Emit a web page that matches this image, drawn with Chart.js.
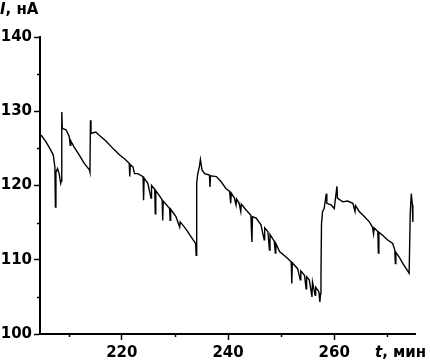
<!DOCTYPE html>
<html>
<head>
<meta charset="utf-8">
<script src="https://cdn.jsdelivr.net/npm/chart.js@4"></script>
<style>
  html, body { margin: 0; padding: 0; background: #fff; }
  #wrap { width: 430px; height: 363px; position: relative; }
</style>
</head>
<body>
<div id="wrap"><canvas id="chart"></canvas></div>
<script>
// time, min
const times = [
  204.8, 205.7, 206.6, 207.1, 207.4, 207.5, 207.6, 207.9, 208.2, 208.5,
  208.6, 208.7, 208.8, 209.5, 210.1, 210.3, 210.4, 211.0, 212.0, 212.9,
  213.9, 214.0, 214.1, 214.2, 215.1, 215.7, 217.0, 218.6, 219.6, 220.5,
  221.4, 221.5, 221.6, 222.1, 222.4, 223.0, 224.0, 224.1, 224.2, 224.9,
  225.5, 225.6, 226.2, 226.3, 226.4, 227.4, 227.6, 227.7, 227.8, 229.0,
  229.1, 229.2, 230.2, 230.9, 231.0, 231.8, 232.4, 233.4, 233.9, 234.0,
  234.1, 234.3, 234.6, 234.8, 235.1, 235.6, 236.5, 236.6, 236.7, 237.8,
  238.7, 239.6, 240.3, 240.5, 240.6, 241.2, 241.5, 241.6, 242.1, 242.4,
  242.5, 243.4, 244.3, 244.5, 244.6, 245.3, 246.2, 246.8, 246.9, 247.5,
  247.8, 247.9, 248.7, 248.9, 249.0, 249.7, 251.2, 251.9, 252.0, 252.1,
  253.1, 253.6, 253.7, 254.4, 254.7, 254.8, 255.3, 255.8, 255.9, 256.4,
  256.5, 257.1, 257.3, 257.4, 257.5, 257.6, 257.8, 258.1, 258.5, 258.6,
  259.4, 260.0, 260.5, 260.6, 261.6, 262.5, 263.5, 263.9, 264.0, 264.7,
  265.7, 266.6, 267.2, 267.4, 267.5, 268.2, 268.3, 268.4, 269.1, 270.0,
  271.0, 271.4, 271.5, 271.6, 272.2, 272.9, 274.1, 274.3, 274.5, 274.7,
  274.8
];
// current, nA
const current = [
  126.8, 125.9, 124.8, 124.1, 122.5, 117.1, 121.8, 122.3, 121.6, 120.3,
  120.6, 129.9, 127.7, 127.5, 126.6, 125.4, 126.0, 125.2, 124.1, 123.0,
  122.1, 121.8, 128.8, 127.0, 127.2, 126.8, 126.0, 124.8, 124.1, 123.6,
  123.0, 121.2, 122.8, 122.5, 121.6, 121.6, 121.2, 118.0, 121.0, 120.3,
  118.3, 120.0, 119.5, 116.2, 119.3, 118.3, 118.0, 115.3, 117.9, 116.9,
  115.3, 116.8, 115.8, 114.4, 115.1, 114.4, 113.8, 112.7, 112.2, 110.6,
  120.3, 121.6, 122.5, 123.5, 122.1, 121.6, 121.4, 119.8, 121.3, 121.2,
  120.5, 119.6, 119.2, 117.6, 119.0, 118.3, 117.4, 118.2, 117.6, 116.5,
  117.5, 116.7, 116.0, 112.4, 115.8, 115.6, 114.7, 112.7, 114.3, 113.8,
  111.3, 113.4, 112.5, 110.9, 112.2, 111.1, 110.2, 109.7, 106.8, 109.6,
  108.8, 107.3, 108.5, 107.9, 106.1, 107.7, 107.3, 105.0, 107.0, 105.2,
  106.3, 105.7, 104.3, 105.4, 108.2, 114.9, 116.5, 116.9, 118.9, 117.6,
  117.4, 116.9, 119.9, 118.3, 117.8, 117.9, 117.6, 116.5, 117.3, 116.5,
  115.8, 115.1, 114.4, 113.5, 114.3, 113.8, 110.9, 113.7, 113.3, 112.7,
  112.2, 111.3, 109.5, 111.0, 110.4, 109.5, 108.2, 116.2, 118.9, 117.4,
  115.1
];
const xTicks = [210, 220, 230, 240, 250, 260, 270];
const xLabelled = [220, 240, 260];
const yTicks = [100, 105, 110, 115, 120, 125, 130, 135, 140];
const yLabelled = [100, 110, 120, 130, 140];

const FONT = '"DejaVu Sans", sans-serif';

// short minor ticks + axis titles
const extras = {
    id: 'extras',
    afterDraw(chart) {
        const ctx = chart.ctx;
        const xs = chart.scales.x, ys = chart.scales.y;
        const area = chart.chartArea;
        ctx.save();
        ctx.strokeStyle = '#000';
        ctx.lineWidth = 1.5;
        ctx.beginPath();
        xTicks.filter(v => !xLabelled.includes(v)).forEach(v => {
            const px = Math.round(xs.getPixelForValue(v)) + 0.5;
            ctx.moveTo(px, area.bottom);
            ctx.lineTo(px, area.bottom + 3);
        });
        yTicks.filter(v => !yLabelled.includes(v)).forEach(v => {
            const py = Math.round(ys.getPixelForValue(v)) + 0.5;
            ctx.moveTo(area.left, py);
            ctx.lineTo(area.left - 3, py);
        });
        ctx.stroke();

        ctx.fillStyle = '#000';
        ctx.textBaseline = 'alphabetic';
        ctx.textAlign = 'left';
        ctx.font = 'italic bold 15px ' + FONT;
        ctx.fillText('I', 0, 14);
        let w = ctx.measureText('I').width;
        ctx.font = 'bold 15px ' + FONT;
        ctx.fillText(', нА', w, 14);

        ctx.font = 'italic bold 15px ' + FONT;
        ctx.fillText('t', 375, 357);
        w = ctx.measureText('t').width;
        ctx.font = 'bold 15px ' + FONT;
        ctx.fillText(', мин', 375 + w, 357);
        ctx.restore();
    }
};

function buildChart() {
    let canvas = document.getElementById('chart');
    new Chart(canvas.getContext('2d'), {
        type: 'line',
        data: {
            datasets: [{
                data: times.map((t, i) => ({x: t, y: current[i]})),
                borderColor: '#000',
                borderWidth: 1.4,
                pointRadius: 0,
                tension: 0,
                fill: false
            }]
        },
        options: {
            responsive: true,
            maintainAspectRatio: false,
            animation: false,
            layout: {padding: {top: 37, right: 15, left: 0, bottom: 0}},
            plugins: {legend: {display: false}, tooltip: {enabled: false}},
            scales: {
                x: {
                    type: 'linear',
                    min: 204.6,
                    max: 275.2,
                    afterBuildTicks: s => { s.ticks = xLabelled.map(v => ({value: v})); },
                    afterFit: s => { s.height = 29; },
                    border: {display: true, color: '#000', width: 2},
                    grid: {drawOnChartArea: false, drawTicks: true, tickLength: 6, tickWidth: 1.5, tickColor: '#000'},
                    ticks: {
                        color: '#000',
                        padding: 4,
                        maxRotation: 0,
                        font: {family: FONT, size: 15, weight: 'bold'}
                    }
                },
                y: {
                    type: 'linear',
                    min: 100,
                    max: 140,
                    afterBuildTicks: s => { s.ticks = yLabelled.map(v => ({value: v})); },
                    afterFit: s => { s.width = 40; },
                    border: {display: true, color: '#000', width: 2},
                    grid: {drawOnChartArea: false, drawTicks: true, tickLength: 6, tickWidth: 1.5, tickColor: '#000'},
                    ticks: {
                        color: '#000',
                        padding: 2,
                        font: {family: FONT, size: 15, weight: 'bold'}
                    }
                }
            }
        },
        plugins: [extras]
    });
}

buildChart();
</script>
</body>
</html>
